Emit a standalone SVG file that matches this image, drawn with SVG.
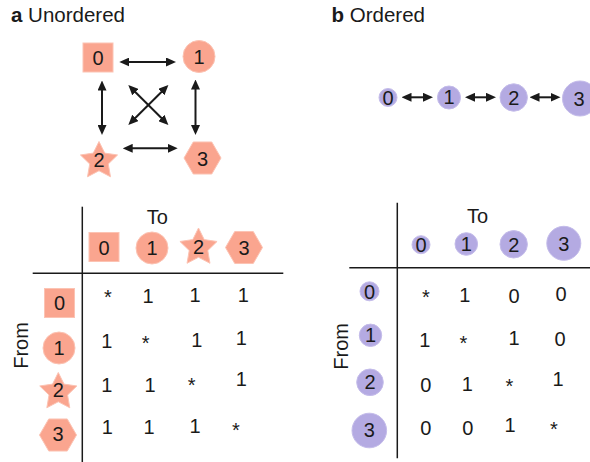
<svg xmlns="http://www.w3.org/2000/svg" xmlns:xlink="http://www.w3.org/1999/xlink" width="590" height="462" viewBox="0 0 590 462">
<style>
text{font-family:"Liberation Sans",Arial,sans-serif;fill:#1a1a1a}
.lab{font-size:20px;text-anchor:middle}
.val{font-size:20px;text-anchor:middle}
.ttl{font-size:20.5px}
.ax{font-size:20px;text-anchor:middle}
.sal{fill:#FAA58F;stroke:#FCC3B3;stroke-width:1}
.pur{fill:#B4AAE2;stroke:#C4BCEA;stroke-width:1}
.con{stroke:#1a1a1a;stroke-width:2;fill:none;marker-start:url(#ah);marker-end:url(#ah)}
.rule{stroke:#1a1a1a;stroke-width:1.5;fill:none}
</style>
<defs>
<marker id="ah" viewBox="0 0 10 9" markerWidth="10" markerHeight="9" refX="2" refY="4.5" orient="auto-start-reverse" markerUnits="userSpaceOnUse">
<path d="M0,0 L10,4.5 L0,9 z" fill="#1a1a1a"/>
</marker>
<polygon id="star" points="0,-19.5 5.73,-7.89 18.55,-6.03 9.27,3.01 11.46,15.78 0,9.75 -11.46,15.78 -9.27,3.01 -18.55,-6.03 -5.73,-7.89"/>
<polygon id="hex" points="18.5,0 9.25,16.02 -9.25,16.02 -18.5,0 -9.25,-16.02 9.25,-16.02"/>
</defs>

<text class="ttl" x="11" y="22"><tspan font-weight="bold">a</tspan> Unordered</text>
<text class="ttl" x="331.5" y="22"><tspan font-weight="bold">b</tspan> Ordered</text>

<!-- Panel a graph -->
<g id="a-node0"><rect class="sal" x="83" y="43" width="30" height="29"/><text class="lab" x="98" y="65">0</text></g>
<g id="a-node1"><circle class="sal" cx="199" cy="56.5" r="16"/><text class="lab" x="199" y="64">1</text></g>
<g id="a-node2"><use href="#star" class="sal" x="99" y="161"/><text class="lab" x="99" y="167">2</text></g>
<g id="a-node3"><use href="#hex" class="sal" x="202.5" y="158"/><text class="lab" x="202.5" y="165.5">3</text></g>
<g id="a-connectors">
<line class="con" x1="127.3" y1="62" x2="168" y2="62"/>
<line class="con" x1="130.7" y1="148.3" x2="169.7" y2="148.3"/>
<line class="con" x1="102" y1="88.5" x2="102" y2="127"/>
<line class="con" x1="195.5" y1="87.5" x2="195.5" y2="127"/>
<line class="con" x1="134" y1="90.7" x2="162.7" y2="119.3"/>
<line class="con" x1="162.7" y1="90.7" x2="134" y2="119.3"/>
</g>

<!-- Panel b graph -->
<g id="b-node0"><circle class="pur" cx="388" cy="97.5" r="9"/><text class="lab" x="388" y="104.5">0</text></g>
<g id="b-node1"><circle class="pur" cx="449" cy="97.5" r="11.5"/><text class="lab" x="449" y="104.3">1</text></g>
<g id="b-node2"><circle class="pur" cx="513.7" cy="97.5" r="13.7"/><text class="lab" x="513.7" y="104.5">2</text></g>
<g id="b-node3"><circle class="pur" cx="580" cy="98.5" r="17.5"/><text class="lab" x="579" y="105.8">3</text></g>
<g id="b-connectors">
<line class="con" x1="409.5" y1="97.3" x2="425" y2="97.3"/>
<line class="con" x1="473" y1="97.3" x2="488" y2="97.3"/>
<line class="con" x1="537.5" y1="97.3" x2="552.5" y2="97.3"/>
</g>

<!-- Table a -->
<g id="table-a">
<line class="rule" x1="82.3" y1="206.7" x2="82.3" y2="462"/>
<line class="rule" x1="32.7" y1="273.3" x2="283.3" y2="273.3"/>
<text class="ax" x="157.2" y="224">To</text>
<text class="ax" transform="translate(28,345.5) rotate(-90)">From</text>
<rect class="sal" x="89" y="232.5" width="30" height="29"/><text class="lab" x="104" y="254.5">0</text>
<circle class="sal" cx="152" cy="248" r="16"/><text class="lab" x="152" y="255">1</text>
<use href="#star" class="sal" x="198.5" y="247.5"/><text class="lab" x="198.5" y="254">2</text>
<use href="#hex" class="sal" x="244" y="247.5"/><text class="lab" x="244" y="254.5">3</text>
<rect class="sal" x="44.5" y="288.5" width="30" height="29"/><text class="lab" x="59.5" y="309.5">0</text>
<circle class="sal" cx="59" cy="348" r="16"/><text class="lab" x="59" y="355">1</text>
<use href="#star" class="sal" x="58.3" y="392"/><text class="lab" x="58.3" y="397">2</text>
<use href="#hex" class="sal" x="58" y="435"/><text class="lab" x="58" y="441">3</text>
<text class="val" x="108" y="303.5">*</text><text class="val" x="148" y="303.3">1</text><text class="val" x="195" y="302.3">1</text><text class="val" x="243.3" y="302.3">1</text>
<text class="val" x="106.7" y="348.3">1</text><text class="val" x="145.7" y="349.5">*</text><text class="val" x="196.7" y="346.7">1</text><text class="val" x="241.3" y="345">1</text>
<text class="val" x="106.7" y="391.7">1</text><text class="val" x="150" y="391.7">1</text><text class="val" x="191.7" y="392">*</text><text class="val" x="241.3" y="386">1</text>
<text class="val" x="107.3" y="434.3">1</text><text class="val" x="149" y="434.3">1</text><text class="val" x="195" y="432.7">1</text><text class="val" x="236" y="436.5">*</text>
</g>

<!-- Table b -->
<g id="table-b">
<line class="rule" x1="397.3" y1="202.7" x2="397.3" y2="458.3"/>
<line class="rule" x1="349.3" y1="267.7" x2="590" y2="267.7"/>
<text class="ax" x="477.5" y="223.3">To</text>
<text class="ax" transform="translate(348.3,346.3) rotate(-90)">From</text>
<circle class="pur" cx="421" cy="244.7" r="9"/><text class="lab" x="421" y="251.7">0</text>
<circle class="pur" cx="466.3" cy="244" r="11.3"/><text class="lab" x="466.3" y="251.2">1</text>
<circle class="pur" cx="513.7" cy="244.3" r="13.7"/><text class="lab" x="513.7" y="251.7">2</text>
<circle class="pur" cx="563.8" cy="243.3" r="17"/><text class="lab" x="563.8" y="251">3</text>
<circle class="pur" cx="369.5" cy="291.3" r="9.5"/><text class="lab" x="369.5" y="298.5">0</text>
<circle class="pur" cx="370.5" cy="335.3" r="11.2"/><text class="lab" x="370.5" y="342">1</text>
<circle class="pur" cx="370" cy="382.3" r="13.3"/><text class="lab" x="370" y="389.3">2</text>
<circle class="pur" cx="369.3" cy="430.5" r="17.3"/><text class="lab" x="369.3" y="437">3</text>
<text class="val" x="426" y="303.5">*</text><text class="val" x="464.7" y="302.3">1</text><text class="val" x="514" y="303">0</text><text class="val" x="561" y="301">0</text>
<text class="val" x="424.7" y="346.7">1</text><text class="val" x="463.3" y="350">*</text><text class="val" x="514" y="345">1</text><text class="val" x="560" y="345.5">0</text>
<text class="val" x="425.7" y="391.5">0</text><text class="val" x="467.3" y="391">1</text><text class="val" x="509.3" y="392.5">*</text><text class="val" x="558" y="386">1</text>
<text class="val" x="425.7" y="434.5">0</text><text class="val" x="467.7" y="434.5">0</text><text class="val" x="510" y="431.7">1</text><text class="val" x="554" y="436">*</text>
</g>
</svg>
